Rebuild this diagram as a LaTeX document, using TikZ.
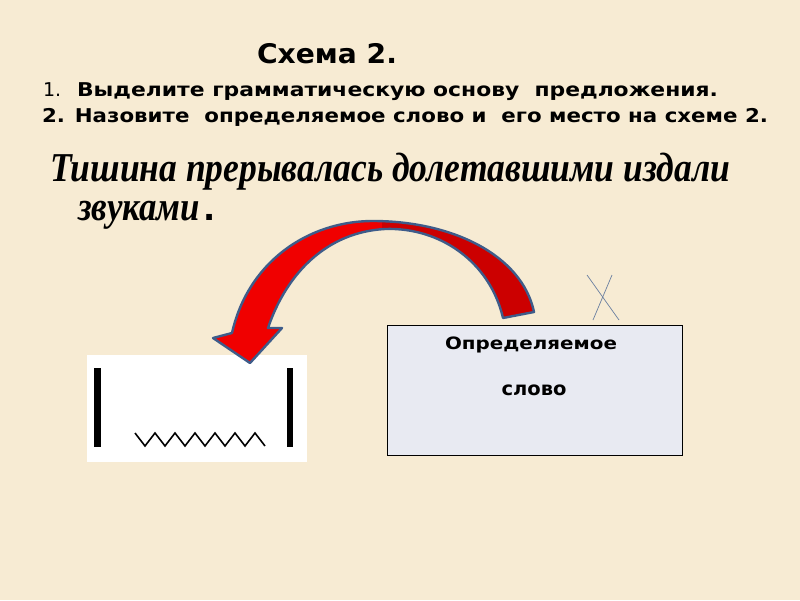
\documentclass[tikz,border=0pt]{standalone}
\usepackage{fontspec}
\usepackage{graphicx}
\setmainfont{DejaVu Sans}
\newfontfamily\serifit{Liberation Serif}
\definecolor{bgcol}{HTML}{F7EBD3}
\definecolor{boxfill}{HTML}{E8EAF2}
\definecolor{arrowred}{HTML}{F00000}
\definecolor{arrowdark}{HTML}{CC0000}
\definecolor{arrowline}{HTML}{3E5C8A}
\definecolor{xcol}{HTML}{6A7FA0}
\tikzset{
  txt/.style={anchor=base west, inner sep=0pt, outer sep=0pt},
  ctxt/.style={anchor=base, inner sep=0pt, outer sep=0pt},
}
\begin{document}
\begin{tikzpicture}[x=1pt,y=-1pt]
\useasboundingbox (0,0) rectangle (800,600);
\fill[bgcol] (0,0) rectangle (800,600);

% headings
\node[txt] (title) at (257,63) {\resizebox{140pt}{\height}{\fontsize{27}{30}\selectfont\bfseries Схема 2.}};
\node[txt] (num1) at (43,96) {\fontsize{19}{24}\selectfont 1.};
\node[txt] (task1) at (77,96) {\resizebox{641pt}{\height}{\fontsize{19}{22}\selectfont\bfseries Выделите грамматическую основу\ \ предложения.}};
\node[txt] (task2) at (42,122) {\resizebox{726pt}{\height}{\fontsize{19}{22}\selectfont\bfseries 2. Назовите\ \ определяемое слово и\ \ его место на схеме 2.}};

% sentence
\node[txt] (sent1) at (50,181) {\resizebox{680pt}{\height}{\fontsize{41}{45}\selectfont\serifit\bfseries\itshape Тишина прерывалась долетавшими издали}};
\node[txt] (sent2) at (78,220) {\resizebox{122pt}{\height}{\fontsize{41}{45}\selectfont\serifit\bfseries\itshape звуками}};
\node[txt] (dot) at (203,220) {\fontsize{32}{36}\selectfont\bfseries .};

% left scheme
\node[fill=white, inner sep=0pt, minimum width=220pt, minimum height=107pt, anchor=north west] (scheme) at (87,355) {};
\fill[black] (94,368) rectangle (101,447);
\fill[black] (287,368) rectangle (293,447);
\draw[black, line width=1.6pt] (135,433) -- (145,446) -- (155,433) -- (165,446) -- (175,433) -- (185,446) -- (195,433) -- (205,446) -- (215,433) -- (225,446) -- (235,433) -- (245,446) -- (255,433) -- (265,446);

% right box
\node[draw=black, line width=0.8pt, fill=boxfill, inner sep=0pt, minimum width=295pt, minimum height=130pt, anchor=north west] (defbox) at (387,325) {};
\node[ctxt] (deflbl) at (531,349) {\resizebox{172pt}{\height}{\fontsize{17}{20}\selectfont\bfseries Определяемое}};
\node[ctxt] (wordlbl) at (534,395) {\resizebox{65pt}{\height}{\fontsize{19}{22}\selectfont\bfseries слово}};

% X mark
\coordinate (xa) at (587,275);
\coordinate (xb) at (619,320);
\coordinate (xc) at (612,275);
\coordinate (xd) at (593,320);
\draw[xcol, line width=0.7pt] (xa) -- (xb);
\draw[xcol, line width=0.7pt] (xc) -- (xd);

% curved arrow
\def\arrowpath{(534,312) -- (503,318)
  .. controls (490,262) and (440,227) .. (385,229)
  .. controls (328,232) and (287,272) .. (268,328)
  -- (282,328) -- (250,363) -- (213,338) -- (232,333)
  .. controls (248,262) and (308,221) .. (373,221)
  .. controls (452,221) and (522,255) .. (534,312) -- cycle}
\fill[arrowred] \arrowpath;
\begin{scope}
  \clip \arrowpath;
  \fill[arrowdark] (382,200) -- (382,240) -- (560,400) -- (560,200) -- cycle;
\end{scope}
\draw[arrowline, line width=2.4pt, line join=round] \arrowpath;
\end{tikzpicture}
\end{document}
